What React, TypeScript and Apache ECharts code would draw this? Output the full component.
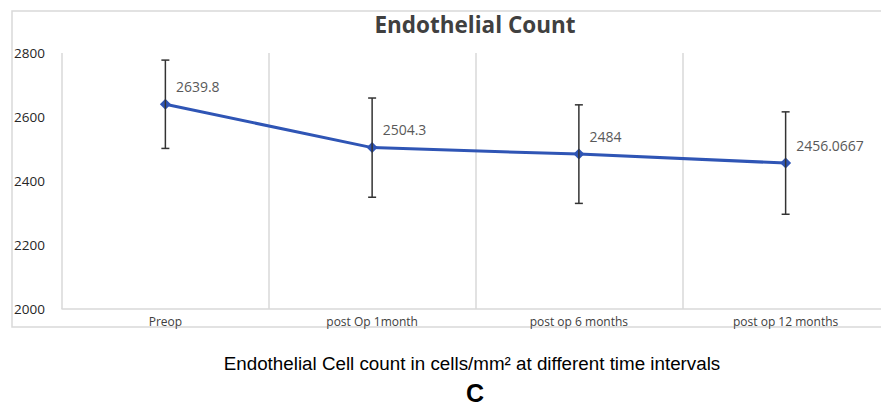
import React, { useEffect, useRef } from "react";
import * as echarts from "echarts";

const categories = ["Preop", "post Op 1month", "post op 6 months", "post op 12 months"];
const meanValues = [2639.8, 2504.3, 2484, 2456.0667];
const errorValues = [138, 155, 154, 160];
const yTicks = { min: 2000, max: 2800, interval: 200 };
const titleText = "Endothelial Count";
const xCaption = "Endothelial Cell count in cells/mm² at different time intervals";
const panelLetter = "C";

export default function App() {
  const ref = useRef<HTMLDivElement>(null);
  useEffect(() => {
    if (!ref.current) return;
    const chart = echarts.init(ref.current, null, { renderer: "svg" });
    const errData = meanValues.map((v, i) => [i, v - errorValues[i], v + errorValues[i]]);
    chart.setOption({
      animation: false,
      backgroundColor: "#ffffff",
      grid: { left: 62, top: 53, width: 827, height: 256, containLabel: false, outerBoundsMode: "none" },
      xAxis: {
        type: "category",
        data: categories,
        boundaryGap: true,
        axisLine: { show: true, lineStyle: { color: "#d9d9d9", width: 1.5 } },
        axisTick: { show: false },
        splitLine: { show: true, interval: 0, lineStyle: { color: "#d9d9d9", width: 1.5 } },
        axisLabel: { interval: 0, margin: 6, fontSize: 12, color: "#404040", fontFamily: "Open Sans" },
      },
      yAxis: {
        type: "value",
        min: yTicks.min,
        max: yTicks.max,
        interval: yTicks.interval,
        axisLine: { show: false },
        axisTick: { show: false },
        splitLine: { show: false },
        axisLabel: {
          align: "left",
          margin: 48,
          fontSize: 13.5,
          color: "#262626",
          fontFamily: "Open Sans",
          formatter: (v: number) => String(v),
        },
      },
      graphic: [
        {
          type: "rect",
          shape: { x: 12, y: 11, width: 900, height: 316 },
          style: { fill: "none", stroke: "#d9d9d9", lineWidth: 1.5 },
          z: -10,
          silent: true,
        },
        {
          type: "text",
          x: 475,
          y: 24,
          style: {
            text: titleText,
            fontSize: 22.5,
            fontWeight: "bold",
            fontFamily: "Open Sans",
            fill: "#404040",
            textAlign: "center",
            textVerticalAlign: "middle",
          },
        },
        {
          type: "text",
          x: 472,
          y: 363,
          style: {
            text: xCaption,
            fontSize: 18.8,
            fontFamily: "Liberation Sans",
            fill: "#000000",
            textAlign: "center",
            textVerticalAlign: "middle",
          },
        },
        {
          type: "text",
          x: 475,
          y: 393,
          style: {
            text: panelLetter,
            fontSize: 25,
            fontWeight: "bold",
            fontFamily: "Liberation Sans",
            fill: "#000000",
            textAlign: "center",
            textVerticalAlign: "middle",
          },
        },
      ],
      series: [
        {
          type: "line",
          data: meanValues,
          symbol: "diamond",
          symbolSize: 11,
          lineStyle: { color: "#2F55B5", width: 3 },
          itemStyle: { color: "#2F55B5" },
          label: {
            show: true,
            position: "right",
            distance: 5,
            offset: [0, -18],
            fontSize: 14,
            color: "#595959",
            fontFamily: "Open Sans",
            formatter: (p: any) => String(p.value),
          },
          z: 2,
        },
        {
          type: "custom",
          data: errData,
          z: 3,
          renderItem: (params: any, api: any) => {
            const x = api.value(0);
            const lo = api.coord([x, api.value(1)]);
            const hi = api.coord([x, api.value(2)]);
            const w = 4;
            const style = { stroke: "#333333", lineWidth: 1.5 };
            return {
              type: "group",
              children: [
                { type: "line", shape: { x1: hi[0], y1: hi[1], x2: lo[0], y2: lo[1] }, style },
                { type: "line", shape: { x1: hi[0] - w, y1: hi[1], x2: hi[0] + w, y2: hi[1] }, style },
                { type: "line", shape: { x1: lo[0] - w, y1: lo[1], x2: lo[0] + w, y2: lo[1] }, style },
              ],
            };
          },
        },
      ],
    });
    return () => chart.dispose();
  }, []);
  return (
    <div
      ref={ref}
      style={{ position: "fixed", left: 0, top: 0, width: 881, height: 406 }}
    />
  );
}
